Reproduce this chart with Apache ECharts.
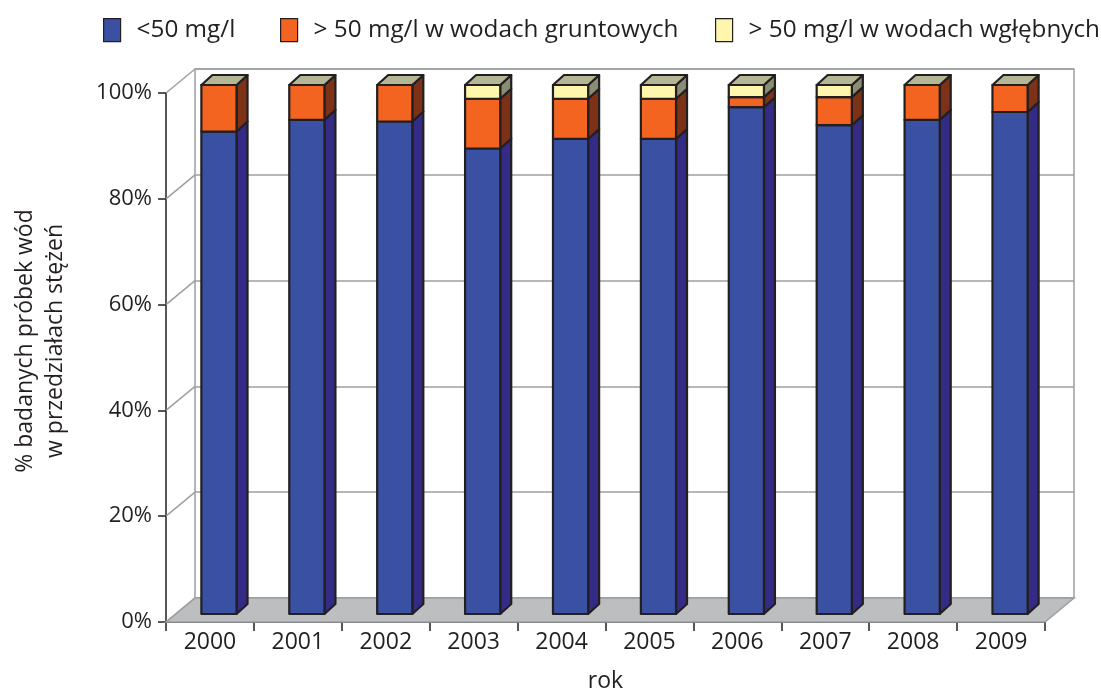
<!DOCTYPE html>
<html>
<head>
<meta charset="utf-8">
<script src="https://cdn.jsdelivr.net/npm/echarts@6/dist/echarts.min.js"></script>
<style>
  html, body { margin: 0; padding: 0; background: #ffffff; }
  #chart { width: 1101px; height: 695px; }
</style>
</head>
<body>
<div id="chart"></div>
<script>
// Lata pomiarów
const years = ['2000', '2001', '2002', '2003', '2004', '2005', '2006', '2007', '2008', '2009'];
// Udział próbek (%) w przedziałach stężeń azotanów
const below50 = [91.2, 93.4, 93.1, 88.0, 89.8, 89.8, 95.8, 92.4, 93.4, 94.9];
const above50Ground = [8.8, 6.6, 6.9, 9.4, 7.6, 7.6, 1.9, 5.3, 6.6, 5.1];
const above50Deep = [0, 0, 0, 2.6, 2.6, 2.6, 2.3, 2.3, 0, 0];
const seriesNames = ['<50 mg/l', '> 50 mg/l w wodach gruntowych', '> 50 mg/l w wodach wgłębnych'];
const yTicks = [0, 20, 40, 60, 80, 100];

const FONT = 'Open Sans';
const INK = '#231f20';
const WALL = '#9d9fa2';

// pseudo-3D depth of the plot box and of each bar
const WALL_D = [29, -24];
const BAR_OFF = [9, -8];
const BAR_D = [11, -10];

const FRONT = { left: 166, right: 56, top: 93, bottom: 73 };
const BACK = {
  left: FRONT.left + WALL_D[0], right: FRONT.right - WALL_D[0],
  top: FRONT.top + WALL_D[1], bottom: FRONT.bottom - WALL_D[1]
};

const palette = [
  { front: '#3a51a3', side: '#332b86' },
  { front: '#f36421', side: '#7d3218' },
  { front: '#fff6ae', side: '#898d74' }
];
const TOP_COLOR = '#b3b795';
const LEGEND_LEFT = [103, 280, 715];

const stacks = [below50, above50Ground, above50Deep];
const bases = stacks.map((arr, s) =>
  arr.map((_, i) => stacks.slice(0, s).reduce((acc, a) => acc + a[i], 0)));
const totals = years.map((_, i) => stacks.reduce((acc, a) => acc + a[i], 0));

const edge = { stroke: INK, lineWidth: 2.2, lineJoin: 'round' };

function barRenderer(s) {
  return function (params, api) {
    const i = api.value(0);
    const v = api.value(1);
    if (!v) return null;
    const base = bases[s][i];
    const pb = api.coord([i, base]);
    const pt = api.coord([i, base + v]);
    const w = api.size([1, 0])[0] * 0.4;
    const x0 = pb[0] - w / 2 + BAR_OFF[0];
    const x1 = x0 + w;
    const yb = pb[1] + BAR_OFF[1];
    const yt = pt[1] + BAR_OFF[1];
    const dx = BAR_D[0], dy = BAR_D[1];
    const children = [
      {
        type: 'polygon',
        shape: { points: [[x1, yb], [x1 + dx, yb + dy], [x1 + dx, yt + dy], [x1, yt]] },
        style: Object.assign({ fill: palette[s].side }, edge)
      },
      {
        type: 'rect',
        shape: { x: x0, y: yt, width: w, height: yb - yt },
        style: Object.assign({ fill: palette[s].front }, edge)
      }
    ];
    if (Math.abs(base + v - totals[i]) < 1e-6) {
      children.push({
        type: 'polygon',
        shape: { points: [[x0, yt], [x0 + dx, yt + dy], [x1 + dx, yt + dy], [x1, yt]] },
        style: Object.assign({ fill: TOP_COLOR }, edge)
      });
    }
    return { type: 'group', children: children };
  };
}

// floor and left side wall of the plot box
function frameRenderer(params, api) {
  const cs = params.coordSys;
  const xL = cs.x, xR = cs.x + cs.width, yB = cs.y + cs.height;
  const children = [{
    type: 'polygon',
    shape: { points: [[xL, yB], [xR, yB], [xR + WALL_D[0], yB + WALL_D[1]], [xL + WALL_D[0], yB + WALL_D[1]]] },
    style: { fill: '#bcbec0', stroke: WALL, lineWidth: 1.5 }
  }];
  yTicks.forEach(function (t) {
    const y = api.coord([0, t])[1];
    children.push({
      type: 'line',
      shape: { x1: xL, y1: y, x2: xL + WALL_D[0], y2: y + WALL_D[1] },
      style: { stroke: WALL, lineWidth: 1.5 }
    });
  });
  return { type: 'group', children: children };
}

const chart = echarts.init(document.getElementById('chart'), null, { renderer: 'canvas' });

const barSeries = seriesNames.map(function (name, s) {
  return {
    name: name,
    type: 'custom',
    xAxisIndex: 0,
    yAxisIndex: 0,
    z: 10 + s,
    itemStyle: { color: palette[s].front },
    renderItem: barRenderer(s),
    encode: { x: 0, y: 1 },
    data: years.map(function (_, i) { return [i, stacks[s][i]]; })
  };
});

const legends = seriesNames.map(function (name, s) {
  return {
    left: LEGEND_LEFT[s],
    top: 18,
    padding: 0,
    itemWidth: 17,
    itemHeight: 23,
    icon: 'rect',
    selectedMode: false,
    textStyle: { fontFamily: FONT, fontSize: 24.3, color: INK, padding: [0, 0, 0, 11] },
    data: [{ name: name, itemStyle: { color: palette[s].front, borderColor: INK, borderWidth: 1.2 } }]
  };
});

chart.setOption({
  animation: false,
  textStyle: { fontFamily: FONT },
  legend: legends,
  grid: [
    {
      left: FRONT.left, right: FRONT.right, top: FRONT.top, bottom: FRONT.bottom,
      containLabel: false, outerBoundsMode: 'none'
    },
    {
      left: BACK.left, right: BACK.right, top: BACK.top, bottom: BACK.bottom,
      containLabel: false, outerBoundsMode: 'none',
      show: true, borderColor: WALL, borderWidth: 1.5, backgroundColor: 'transparent'
    }
  ],
  xAxis: [
    {
      gridIndex: 0,
      type: 'category',
      data: years,
      boundaryGap: true,
      name: 'rok',
      nameLocation: 'middle',
      nameGap: 48,
      nameTextStyle: { fontFamily: FONT, fontSize: 23, color: INK },
      axisLine: { lineStyle: { color: INK, width: 1.5 } },
      axisTick: { show: true, interval: 0, length: 9, lineStyle: { color: INK, width: 1.5 } },
      axisLabel: { fontFamily: FONT, fontSize: 23, color: INK, margin: 9 },
      splitLine: { show: false }
    },
    { gridIndex: 1, type: 'category', data: years, show: false }
  ],
  yAxis: [
    {
      gridIndex: 0,
      type: 'value',
      min: 0,
      max: 100,
      interval: 20,
      axisLine: { show: true, lineStyle: { color: INK, width: 1.5 } },
      axisTick: { show: true, length: 8, lineStyle: { color: INK, width: 1.5 } },
      axisLabel: { fontFamily: FONT, fontSize: 22, color: INK, margin: 14, formatter: '{value}%' },
      splitLine: { show: false }
    },
    {
      gridIndex: 1,
      type: 'value',
      min: 0,
      max: 100,
      interval: 20,
      axisLine: { show: false },
      axisTick: { show: false },
      axisLabel: { show: false },
      splitLine: { show: true, lineStyle: { color: WALL, width: 1.5 } }
    }
  ],
  graphic: [{
    type: 'text',
    x: 40,
    y: 341,
    rotation: Math.PI / 2,
    style: {
      text: '% badanych próbek wód\nw przedziałach stężeń',
      fontFamily: FONT,
      fontSize: 23,
      lineHeight: 30,
      fill: INK,
      align: 'center',
      verticalAlign: 'middle'
    }
  }],
  series: [{
    type: 'custom',
    xAxisIndex: 0,
    yAxisIndex: 0,
    z: 1,
    silent: true,
    renderItem: frameRenderer,
    data: [[0]]
  }].concat(barSeries)
});
</script>
</body>
</html>
